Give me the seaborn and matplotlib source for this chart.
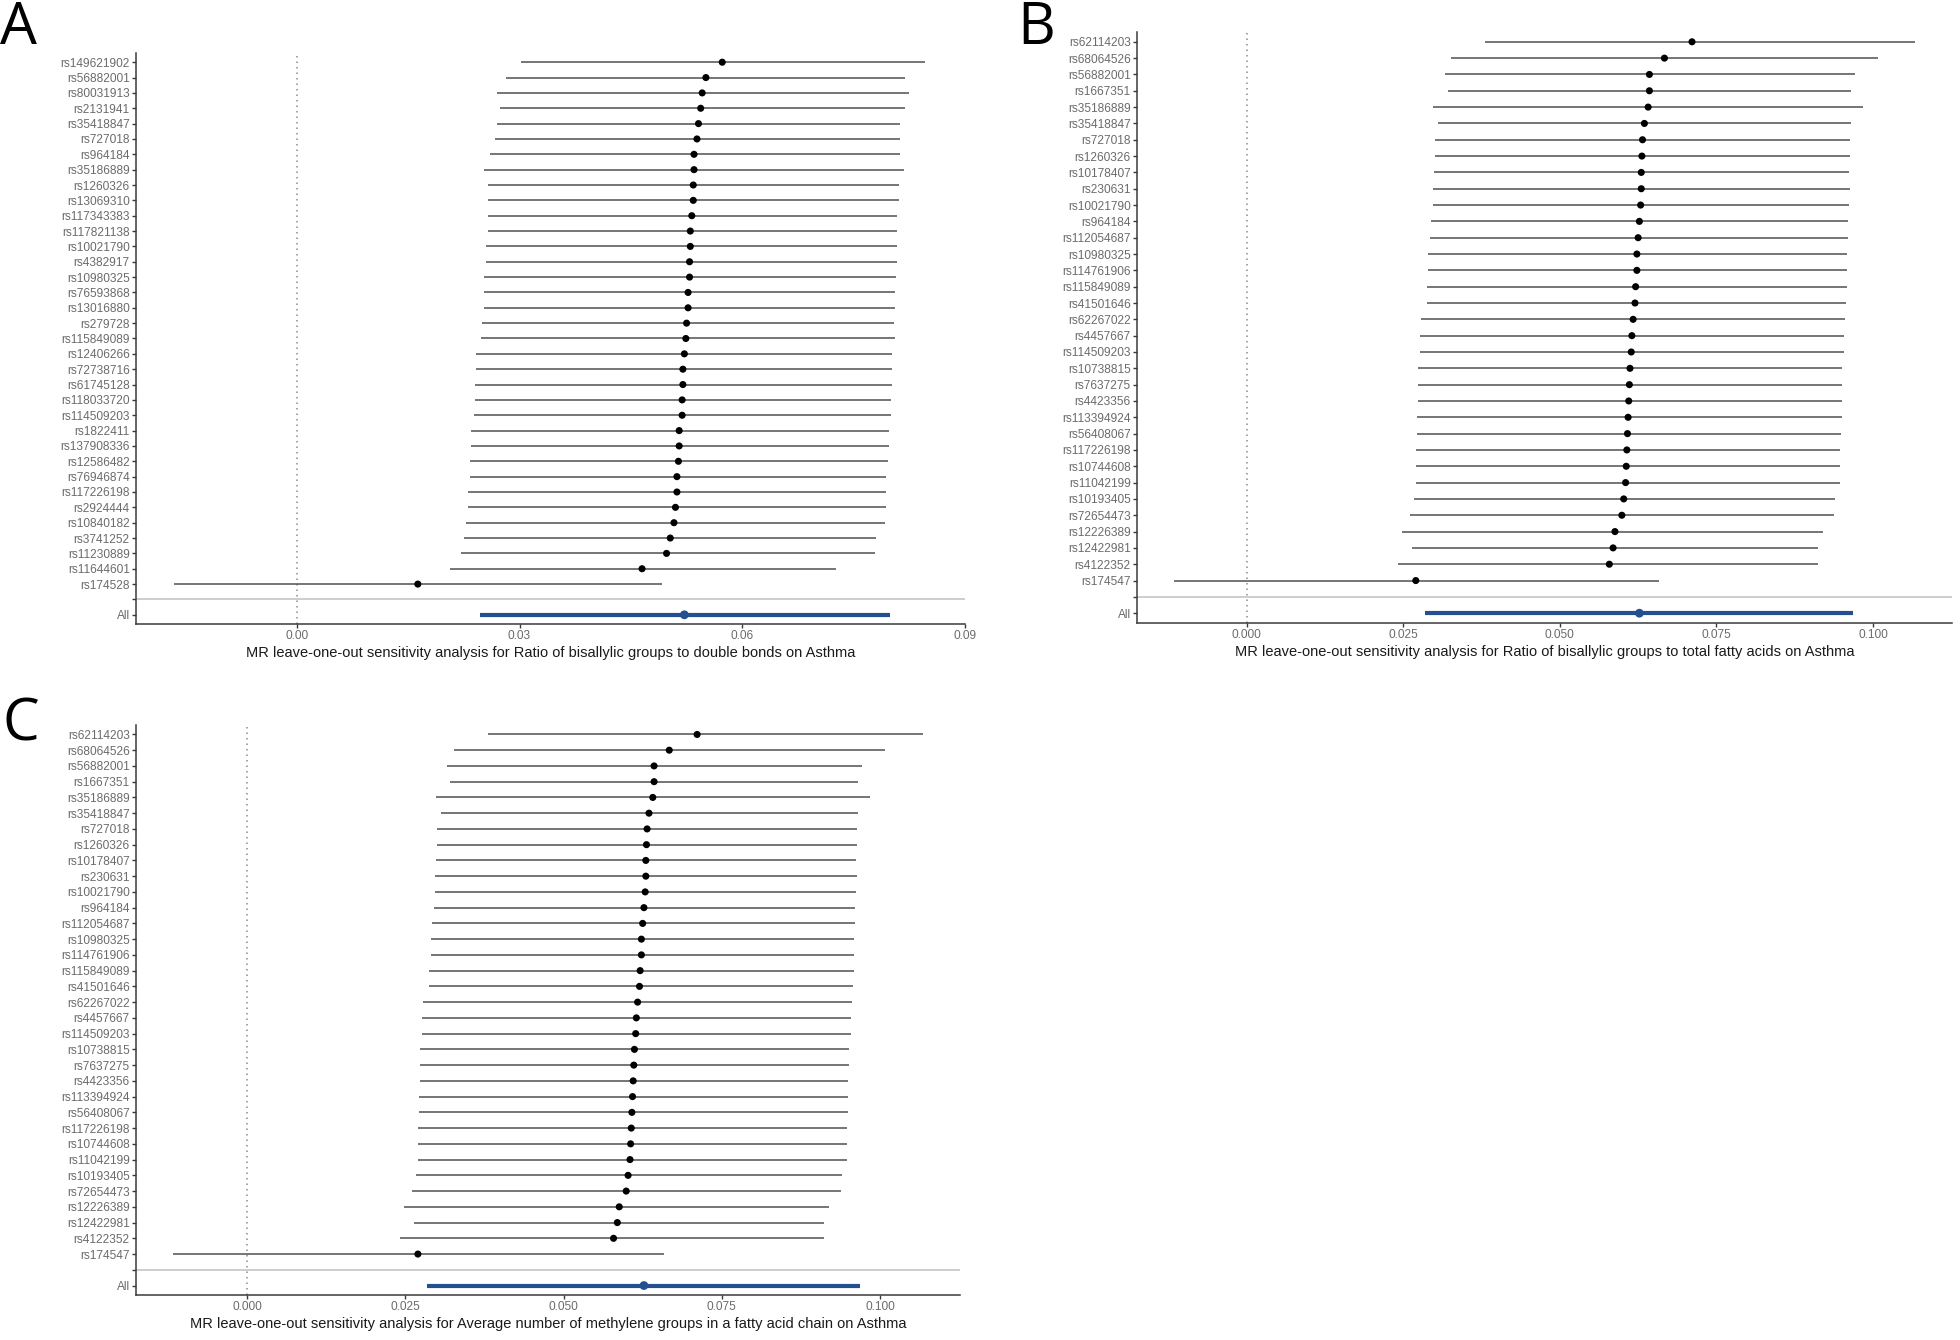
import numpy as np
import pandas as pd
import matplotlib
matplotlib.use("Agg")
import matplotlib.pyplot as plt
import seaborn as sns

# ---------------- Panel A data ----------------
snps_a = ["rs149621902", "rs56882001", "rs80031913", "rs2131941", "rs35418847", "rs727018",
          "rs964184", "rs35186889", "rs1260326", "rs13069310", "rs117343383", "rs117821138",
          "rs10021790", "rs4382917", "rs10980325", "rs76593868", "rs13016880", "rs279728",
          "rs115849089", "rs12406266", "rs72738716", "rs61745128", "rs118033720", "rs114509203",
          "rs1822411", "rs137908336", "rs12586482", "rs76946874", "rs117226198", "rs2924444",
          "rs10840182", "rs3741252", "rs11230889", "rs11644601", "rs174528"]
b_a = [0.0573, 0.0551, 0.0546, 0.0544, 0.0541, 0.0539, 0.0535, 0.0535, 0.0534, 0.0534, 0.0532, 0.0530,
       0.0530, 0.0529, 0.0529, 0.0527, 0.0527, 0.0525, 0.0524, 0.0522, 0.0520, 0.0520, 0.0519, 0.0519,
       0.0515, 0.0515, 0.0514, 0.0512, 0.0512, 0.0510, 0.0508, 0.0503, 0.0498, 0.0465, 0.0163]
lo_a = [0.0302, 0.0282, 0.0270, 0.0274, 0.0269, 0.0267, 0.0260, 0.0252, 0.0257, 0.0257, 0.0257, 0.0257,
        0.0255, 0.0255, 0.0252, 0.0252, 0.0252, 0.0250, 0.0248, 0.0242, 0.0242, 0.0240, 0.0240, 0.0238,
        0.0235, 0.0235, 0.0233, 0.0233, 0.0231, 0.0230, 0.0228, 0.0225, 0.0221, 0.0206, -0.0166]
hi_a = [0.0846, 0.0819, 0.0824, 0.0819, 0.0813, 0.0813, 0.0813, 0.0818, 0.0811, 0.0811, 0.0809, 0.0809,
        0.0809, 0.0809, 0.0807, 0.0806, 0.0806, 0.0804, 0.0806, 0.0802, 0.0802, 0.0802, 0.0801, 0.0801,
        0.0797, 0.0797, 0.0796, 0.0794, 0.0794, 0.0794, 0.0792, 0.0780, 0.0779, 0.0726, 0.0492]
all_a = [0.0522, 0.0247, 0.0799]  # b, lower, upper
xticks_a = [0.00, 0.03, 0.06, 0.09]
xticklabels_a = ["0.00", "0.03", "0.06", "0.09"]
xlabel_a = "MR leave-one-out sensitivity analysis for Ratio of bisallylic groups to double bonds on Asthma"

# ---------------- Panel B / C data ----------------
snps_b = ["rs62114203", "rs68064526", "rs56882001", "rs1667351", "rs35186889", "rs35418847",
          "rs727018", "rs1260326", "rs10178407", "rs230631", "rs10021790", "rs964184",
          "rs112054687", "rs10980325", "rs114761906", "rs115849089", "rs41501646", "rs62267022",
          "rs4457667", "rs114509203", "rs10738815", "rs7637275", "rs4423356", "rs113394924",
          "rs56408067", "rs117226198", "rs10744608", "rs11042199", "rs10193405", "rs72654473",
          "rs12226389", "rs12422981", "rs4122352", "rs174547"]
b_b = [0.0711, 0.0667, 0.0643, 0.0643, 0.0641, 0.0635, 0.0632, 0.0631, 0.0630, 0.0630, 0.0629, 0.0627,
       0.0625, 0.0623, 0.0623, 0.0621, 0.0620, 0.0617, 0.0615, 0.0614, 0.0612, 0.0611, 0.0610, 0.0609,
       0.0608, 0.0607, 0.0606, 0.0605, 0.0602, 0.0599, 0.0588, 0.0585, 0.0579, 0.0270]
lo_b = [0.0381, 0.0327, 0.0316, 0.0321, 0.0298, 0.0306, 0.0300, 0.0300, 0.0299, 0.0297, 0.0297, 0.0295,
        0.0292, 0.0290, 0.0290, 0.0288, 0.0288, 0.0278, 0.0276, 0.0276, 0.0274, 0.0274, 0.0273, 0.0272,
        0.0272, 0.0270, 0.0270, 0.0270, 0.0267, 0.0261, 0.0248, 0.0264, 0.0242, -0.0116]
hi_b = [0.1067, 0.1008, 0.0971, 0.0965, 0.0984, 0.0965, 0.0963, 0.0963, 0.0962, 0.0963, 0.0962, 0.0960,
        0.0960, 0.0958, 0.0958, 0.0958, 0.0957, 0.0956, 0.0954, 0.0954, 0.0951, 0.0951, 0.0950, 0.0950,
        0.0949, 0.0948, 0.0947, 0.0947, 0.0940, 0.0938, 0.0920, 0.0912, 0.0912, 0.0659]
all_b = [0.0627, 0.0285, 0.0968]
xticks_b = [0.000, 0.025, 0.050, 0.075, 0.100]
xticklabels_b = ["0.000", "0.025", "0.050", "0.075", "0.100"]
xlabel_b = "MR leave-one-out sensitivity analysis for Ratio of bisallylic groups to total fatty acids on Asthma"
xlabel_c = "MR leave-one-out sensitivity analysis for Average number of methylene groups in a fatty acid chain on Asthma"

# ---------------- styling ----------------
sns.set_style("ticks")
plt.rcParams["font.family"] = ["Liberation Sans", "DejaVu Sans"]

W, H = 1960, 1340
fig = plt.figure(figsize=(W / 100, H / 100), dpi=100)

TICK_COL = "#6b6b6b"
LINE_COL = "#505050"
BLUE = "#24508f"


def rect(l, r, t, b):
    return [l / W, 1 - b / H, (r - l) / W, (b - t) / H]


def panel(rc, snps, b, lo, hi, allv, xticks, xticklabels, xlabel):
    ax = fig.add_axes(rc)
    n = len(snps)
    df = pd.DataFrame({"pos": np.arange(n), "b": b, "lo": lo, "hi": hi})
    df_all = pd.DataFrame({"pos": [n + 1], "b": [allv[0]], "lo": [allv[1]], "hi": [allv[2]]})

    ax.axvline(0, color="#8c8c8c", lw=1.1, ls=(0, (1, 2.6)), zorder=1)
    ax.axhline(n, color="#cdcdcd", lw=1.4, zorder=1)
    ax.hlines(df["pos"], df["lo"], df["hi"], color=LINE_COL, lw=1.1, zorder=2)
    sns.scatterplot(data=df, x="b", y="pos", color="black", s=26, edgecolor="none",
                    ax=ax, zorder=3, legend=False)
    ax.hlines(df_all["pos"], df_all["lo"], df_all["hi"], color=BLUE, lw=3.0, zorder=2)
    sns.scatterplot(data=df_all, x="b", y="pos", color=BLUE, s=40, edgecolor="none",
                    ax=ax, zorder=3, legend=False)

    xmin = min(min(lo), allv[1], 0)
    xmax = max(max(hi), allv[2], 0)
    r = xmax - xmin
    ax.set_xlim(xmin - 0.05 * r, xmax + 0.05 * r)
    ax.set_ylim(n + 1 + 0.6, -0.6)

    ax.set_yticks(np.arange(n + 2))
    ax.set_yticklabels(list(snps) + ["", "All"])
    ax.set_xticks(xticks)
    ax.set_xticklabels(xticklabels)
    ax.set_xlabel(xlabel, fontsize=10.5, color="#1a1a1a", labelpad=3)
    ax.set_ylabel("")
    for s in ["top", "right"]:
        ax.spines[s].set_visible(False)
    for s in ["left", "bottom"]:
        ax.spines[s].set_color("#3a3a3a")
        ax.spines[s].set_linewidth(1.1)
    ax.tick_params(axis="both", length=3, width=1.0, color="#3a3a3a",
                   labelcolor=TICK_COL, labelsize=8.6, pad=1.5)
    ax.grid(False)
    return ax


panel(rect(136, 965, 53, 624), snps_a, b_a, lo_a, hi_a, all_a, xticks_a, xticklabels_a, xlabel_a)
panel(rect(1137, 1952, 32, 623), snps_b, b_b, lo_b, hi_b, all_b, xticks_b, xticklabels_b, xlabel_b)
panel(rect(136, 960, 725, 1295), snps_b, b_b, lo_b, hi_b, all_b, xticks_b, xticklabels_b, xlabel_c)

lab_kw = dict(fontsize=42, family=["Open Sans", "DejaVu Sans"], va="top", ha="left", color="black")
fig.text(0 / W, 1 - 0 / H, "A", **lab_kw)
fig.text(1017 / W, 1 - 0 / H, "B", **lab_kw)
fig.text(2 / W, 1 - 696 / H, "C", **lab_kw)

fig.savefig("out.png", dpi=100, facecolor="white")
